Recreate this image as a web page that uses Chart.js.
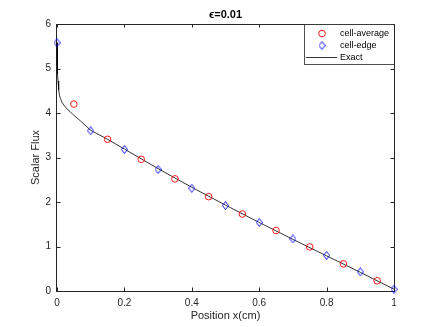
<!DOCTYPE html>
<html><head><meta charset="utf-8">
<script src="https://cdn.jsdelivr.net/npm/chart.js@4/dist/chart.umd.min.js"></script>
<style>html,body{margin:0;padding:0;background:#fff;}</style>
</head><body>
<canvas id="c" width="436" height="327"></canvas>
<script>
const titleText = 'ϵ=0.01';
const xLabel = 'Position x(cm)';
const yLabel = 'Scalar Flux';
const seriesNames = ['cell-average', 'cell-edge', 'Exact'];

const avgX = [0.05, 0.15, 0.25, 0.35, 0.45, 0.55, 0.65, 0.75, 0.85, 0.95];
const avgY = [4.20, 3.41, 2.96, 2.52, 2.12, 1.73, 1.36, 0.99, 0.61, 0.23];

const edgeX = [0, 0.1, 0.2, 0.3, 0.4, 0.5, 0.6, 0.7, 0.8, 0.9, 1.0];
const edgeY = [5.58, 3.60, 3.18, 2.73, 2.31, 1.92, 1.54, 1.17, 0.80, 0.43, 0.04];

const exactX = [0, 0.001, 0.002, 0.003, 0.005, 0.0075, 0.01, 0.015, 0.02, 0.03, 0.04, 0.05, 0.07, 0.1, 0.15, 0.2, 0.3, 0.4, 0.5, 0.6, 0.7, 0.8, 0.9, 1.0];
const exactY = [5.58, 5.15, 4.88, 4.72, 4.52, 4.40, 4.33, 4.24, 4.18, 4.09, 4.02, 3.95, 3.82, 3.61, 3.41, 3.19, 2.75, 2.33, 1.93, 1.54, 1.16, 0.79, 0.42, 0.04];

const xTicks = [0, 0.2, 0.4, 0.6, 0.8, 1];
const yTicks = [0, 1, 2, 3, 4, 5, 6];

const AX = '#262626';
const FONT = '"Liberation Sans", Arial, Helvetica, sans-serif';

function pts(xs, ys) { return xs.map((x, i) => ({x: x, y: ys[i]})); }

// diamond marker image
const dia = document.createElement('canvas');
dia.width = 7; dia.height = 9;
(function () {
  const g = dia.getContext('2d');
  g.strokeStyle = '#0000FF'; g.lineWidth = 0.9;
  g.beginPath();
  g.moveTo(3.5, 0.5); g.lineTo(6.5, 4.5); g.lineTo(3.5, 8.5); g.lineTo(0.5, 4.5); g.closePath();
  g.stroke();
})();

const boxPlugin = {
  id: 'boxPlugin',
  beforeDatasetsDraw(chart) {
    const ctx = chart.ctx;
    const a = chart.chartArea;
    const xs = chart.scales.x, ys = chart.scales.y;
    ctx.save();
    ctx.strokeStyle = AX;
    ctx.lineWidth = 1;
    ctx.strokeRect(Math.round(a.left) - 0.5, Math.round(a.top) + 0.5, Math.round(a.right - a.left) + 1, Math.round(a.bottom - a.top));
    const L = 3.5;
    ctx.beginPath();
    xTicks.forEach(v => {
      const px = Math.round(xs.getPixelForValue(v)) + 0.5;
      ctx.moveTo(px, a.bottom); ctx.lineTo(px, a.bottom - L);
      ctx.moveTo(px, a.top); ctx.lineTo(px, a.top + L);
    });
    yTicks.forEach(v => {
      const py = Math.round(ys.getPixelForValue(v)) + 0.5;
      ctx.moveTo(a.left, py); ctx.lineTo(a.left + L, py);
      ctx.moveTo(a.right, py); ctx.lineTo(a.right - L, py);
    });
    ctx.stroke();
    ctx.restore();
  },
  afterDraw(chart) {
    const ctx = chart.ctx;
    const a = chart.chartArea;
    ctx.save();
    // title
    ctx.fillStyle = '#000';
    ctx.font = 'bold 11px ' + FONT;
    ctx.textAlign = 'center';
    ctx.textBaseline = 'middle';
    ctx.fillText(titleText, (a.left + a.right) / 2, 15);

    // legend
    const lx0 = 304, ly0 = Math.round(a.top) + 0.5, lw = Math.round(a.right) - lx0, lh = 40;
    ctx.fillStyle = '#fff';
    ctx.fillRect(lx0, ly0, lw, lh);
    ctx.strokeStyle = AX; ctx.lineWidth = 0.8;
    ctx.strokeRect(lx0 + 0.5, ly0, lw, lh);
    const rows = [ly0 + 9, ly0 + 21, ly0 + 33];
    ctx.strokeStyle = '#FF0000'; ctx.lineWidth = 0.9;
    ctx.beginPath(); ctx.arc(322, rows[0], 3.3, 0, Math.PI * 2); ctx.stroke();
    ctx.drawImage(dia, 322 - 3.5, rows[1] - 4.5);
    ctx.strokeStyle = '#000'; ctx.lineWidth = 0.8;
    ctx.beginPath(); ctx.moveTo(306, rows[2]); ctx.lineTo(337, rows[2]); ctx.stroke();
    ctx.fillStyle = '#000';
    ctx.font = '9px ' + FONT;
    ctx.textAlign = 'left';
    ctx.textBaseline = 'middle';
    seriesNames.forEach((n, i) => ctx.fillText(n, 340, rows[i] + 0.5));
    ctx.restore();
  }
};

new Chart(document.getElementById('c'), {
  type: 'scatter',
  data: {
    datasets: [
      {
        label: seriesNames[2], data: pts(exactX, exactY), showLine: true,
        borderColor: '#000', borderWidth: 0.8, pointRadius: 0, fill: false, tension: 0, order: 3
      },
      {
        label: seriesNames[0], data: pts(avgX, avgY), showLine: false,
        pointStyle: 'circle', pointRadius: 3.3, borderColor: '#FF0000', borderWidth: 0.9,
        backgroundColor: 'rgba(0,0,0,0)', order: 1
      },
      {
        label: seriesNames[1], data: pts(edgeX, edgeY), showLine: false,
        pointStyle: dia, pointRadius: 4, order: 2
      }
    ]
  },
  options: {
    responsive: false,
    animation: false,
    devicePixelRatio: 1,
    clip: false,
    layout: { padding: { left: 0, right: 42, top: 24, bottom: 0 } },
    plugins: { legend: { display: false }, tooltip: { enabled: false }, title: { display: false } },
    scales: {
      x: {
        type: 'linear', min: 0, max: 1,
        afterBuildTicks: s => { s.ticks = xTicks.map(v => ({value: v})); },
        afterFit: s => { s.height = 36; },
        grid: { display: false, drawTicks: false }, border: { display: false },
        ticks: { color: AX, font: { family: FONT, size: 10 }, padding: 6, maxRotation: 0, autoSkip: false,
                 callback: v => String(v) },
        title: { display: true, text: xLabel, color: AX, font: { family: FONT, size: 11 }, padding: { top: 0, bottom: 4 } }
      },
      y: {
        type: 'linear', min: 0, max: 6,
        afterBuildTicks: s => { s.ticks = yTicks.map(v => ({value: v})); },
        afterFit: s => { s.width = 57; },
        grid: { display: false, drawTicks: false }, border: { display: false },
        ticks: { color: AX, font: { family: FONT, size: 10 }, padding: 6, autoSkip: false,
                 callback: v => String(v) },
        title: { display: true, text: yLabel, color: AX, font: { family: FONT, size: 11 }, padding: { top: 29, bottom: 0 } }
      }
    }
  },
  plugins: [boxPlugin]
});
</script>
</body></html>
